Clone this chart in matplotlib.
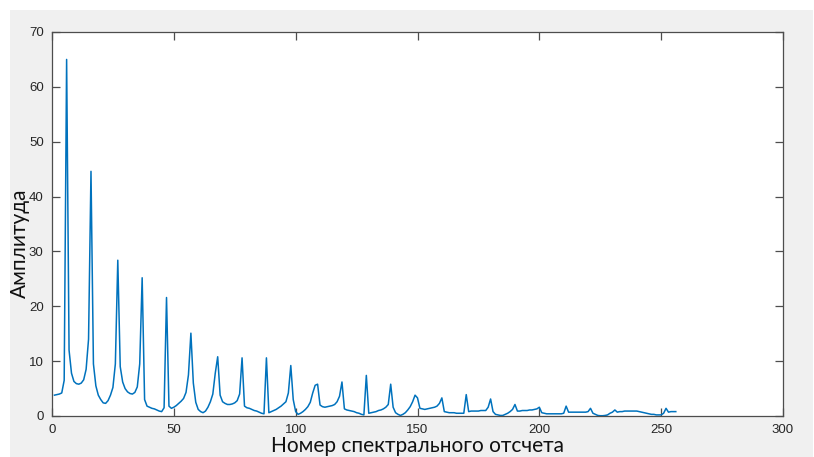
import numpy as np
import matplotlib
matplotlib.use("Agg")
import matplotlib.pyplot as plt
from matplotlib.patches import Rectangle

# Spectrum amplitude per sample index (1..256)
amplitude = [
    3.8, 3.9, 4.0, 4.2, 6.5, 65.0, 12.0, 7.8, 6.3, 5.9,
    5.8, 6.0, 6.6, 8.5, 14.0, 44.6, 9.5, 5.5, 3.8, 3.0,
    2.4, 2.3, 2.8, 3.8, 5.2, 9.5, 28.4, 9.0, 6.2, 5.0,
    4.4, 4.1, 4.0, 4.3, 5.3, 9.5, 25.2, 3.0, 1.8, 1.6,
    1.4, 1.3, 1.1, 0.9, 0.8, 1.5, 21.6, 1.8, 1.4, 1.6,
    1.9, 2.3, 2.7, 3.2, 4.3, 7.5, 15.1, 6.0, 2.5, 1.2,
    0.8, 0.6, 0.9, 1.6, 2.6, 4.0, 7.8, 10.8, 3.8, 2.6,
    2.3, 2.1, 2.1, 2.2, 2.4, 2.8, 4.0, 10.6, 1.8, 1.5,
    1.4, 1.2, 1.0, 0.9, 0.7, 0.5, 0.4, 10.6, 0.6, 0.8,
    1.0, 1.2, 1.5, 1.8, 2.2, 2.6, 4.2, 9.2, 3.0, 0.8,
    0.3, 0.5, 0.8, 1.2, 1.7, 2.5, 4.2, 5.6, 5.8, 2.0,
    1.7, 1.6, 1.7, 1.8, 1.9, 2.1, 2.6, 3.6, 6.2, 1.3,
    1.1, 1.0, 0.9, 0.8, 0.6, 0.5, 0.3, 0.2, 7.4, 0.5,
    0.6, 0.7, 0.8, 1.0, 1.1, 1.3, 1.6, 2.1, 5.8, 1.6,
    0.6, 0.3, 0.1, 0.3, 0.6, 1.1, 1.7, 2.6, 3.8, 3.3,
    1.4, 1.3, 1.2, 1.3, 1.4, 1.5, 1.6, 1.8, 2.3, 3.3,
    0.8, 0.7, 0.6, 0.6, 0.6, 0.5, 0.5, 0.5, 0.5, 3.9,
    0.8, 0.9, 0.9, 0.9, 0.9, 1.0, 1.0, 1.0, 1.6, 3.1,
    0.8, 0.3, 0.2, 0.1, 0.1, 0.3, 0.5, 0.8, 1.2, 2.1,
    0.9, 0.9, 1.0, 1.0, 1.0, 1.1, 1.1, 1.2, 1.3, 1.6,
    0.6, 0.5, 0.4, 0.4, 0.4, 0.4, 0.4, 0.4, 0.4, 0.5,
    1.8, 0.7, 0.7, 0.7, 0.7, 0.7, 0.7, 0.7, 0.7, 0.8,
    1.4, 0.5, 0.3, 0.1, 0.05, 0.05, 0.1, 0.2, 0.5, 0.7,
    1.1, 0.7, 0.8, 0.8, 0.9, 0.9, 0.9, 0.9, 0.9, 0.9,
    0.8, 0.7, 0.6, 0.5, 0.4, 0.3, 0.3, 0.2, 0.2, 0.2,
    0.5, 1.4, 0.7, 0.8, 0.8, 0.8,
]
sample_index = np.arange(1, len(amplitude) + 1)

x_ticks = [0, 50, 100, 150, 200, 250, 300]
y_ticks = [0, 10, 20, 30, 40, 50, 60, 70]
x_label = "Номер спектрального отсчета"
y_label = "Амплитуда"

W, H = 814, 457
fig = plt.figure(figsize=(W / 100, H / 100), dpi=100, facecolor="white")

# grey window panel behind the axes
fig.patches.append(Rectangle((10 / W, 0), (W - 11) / W, (H - 10) / H,
                             transform=fig.transFigure, facecolor="#f0f0f0",
                             edgecolor="none", zorder=-10))

ax = fig.add_axes([52 / W, (H - 416) / H, (783 - 52) / W, (416 - 32) / H])
ax.set_facecolor("white")
ax.plot(sample_index, amplitude, color="#0072BD", linewidth=1.1)

ax.set_xlim(0, 300)
ax.set_ylim(0, 70)
ax.set_xticks(x_ticks)
ax.set_yticks(y_ticks)

axis_color = "#4d4d4d"
for s in ax.spines.values():
    s.set_color(axis_color)
    s.set_linewidth(0.9)
ax.tick_params(direction="in", length=5.5, width=0.9, color=axis_color,
               top=True, right=True, labelsize=9.5, labelcolor="#262626",
               pad=6)
for lbl in ax.get_xticklabels() + ax.get_yticklabels():
    lbl.set_fontfamily("Liberation Sans")

fig.text(417 / W, 1 - 452 / H, x_label, ha="center", va="baseline",
         fontsize=15, family="Lato", color="#111111")
fig.text(20 / W, 1 - 243 / H, y_label, ha="center", va="center",
         rotation=90, fontsize=15, family="Lato", color="#111111")

fig.savefig("out.png", dpi=100, facecolor="white")
